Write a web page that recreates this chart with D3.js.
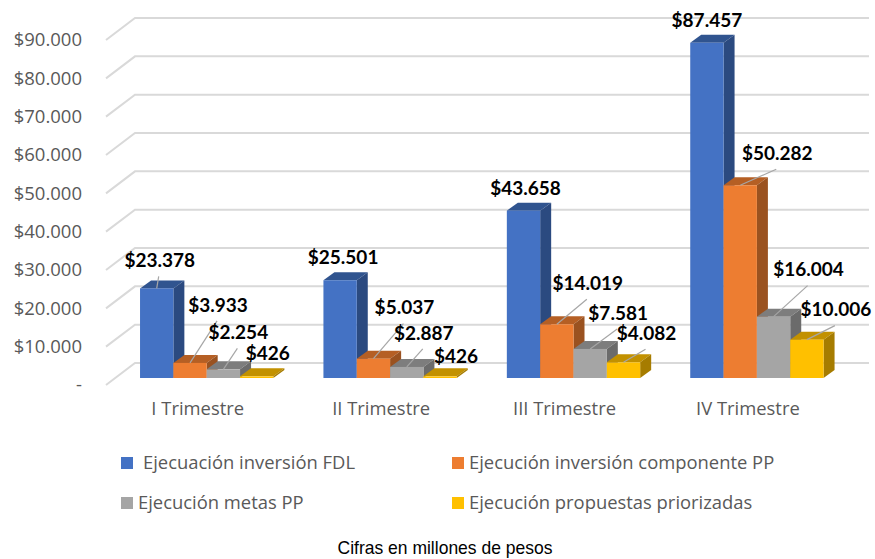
<!DOCTYPE html>
<html>
<head>
<meta charset="utf-8">
<script src="https://cdn.jsdelivr.net/npm/d3@7"></script>
<style>
  body { margin: 0; background: #fff; }
  svg { display: block; }
  text { font-family: Lato, sans-serif; }
</style>
</head>
<body>
<svg width="875" height="559"></svg>
<script>
const categories = ['I Trimestre', 'II Trimestre', 'III Trimestre', 'IV Trimestre'];
const seriesNames = ['Ejecuación inversión FDL', 'Ejecución inversión componente PP', 'Ejecución metas PP', 'Ejecución propuestas priorizadas'];
const fdl = [23378, 25501, 43658, 87457];
const componente = [3933, 5037, 14019, 50282];
const metas = [2254, 2887, 7581, 16004];
const propuestas = [426, 426, 4082, 10006];
const yTicks = [0, 10000, 20000, 30000, 40000, 50000, 60000, 70000, 80000, 90000];

// colours per series: front, side, top
const faces = [
  ['#4472c4', '#2b4a80', '#30548f'],
  ['#ed7d31', '#9a5220', '#b55f24'],
  ['#a5a5a5', '#6b6b6b', '#7d7d7d'],
  ['#ffc000', '#a67c00', '#c29100']
];
// hand placed data labels, offset from the bar top [dx, dy, has leader]
const labelOffsets = [
  [[3, -28, 1], [3, -23, 0], [2, -22, 0], [0, -22, 0]],
  [[28, -58, 1], [31, -51, 1], [31, -41, 1], [37, -32, 1]],
  [[15, -37, 1], [17, -34, 1], [28, -36, 1], [35, -47, 1]],
  [[11, -23, 0], [16, -20, 0], [23, -29, 1], [29, -30, 1]]
];

const svg = d3.select('svg');
const values = [fdl, componente, metas, propuestas];
const depth = {x: 11, y: 8};
const wall = {x: 135, y: -15, left: 106, right: 869};

const y = d3.scaleLinear().domain([0, 90000]).range([378, 33]);
const x0 = d3.scaleBand().domain(categories).range([115, 848.6]).paddingInner(0.273).paddingOuter(0.1365);
const x1 = d3.scaleBand().domain(d3.range(4)).range([0, x0.bandwidth()]);

const money = d3.formatLocale({decimal: ',', thousands: '.', grouping: [3], currency: ['$', '']}).format('$,.0f');

// back wall and side wall gridlines
const grid = svg.append('g').attr('stroke', '#d9d9d9').attr('stroke-width', 2).attr('fill', 'none');
yTicks.forEach(t => {
  grid.append('path').attr('d', d3.line()([
    [wall.left, y(t) + 7],
    [wall.x, y(t) + wall.y],
    [wall.right, y(t) + wall.y]
  ]));
});

// y axis
const yAxis = svg.append('g')
  .attr('transform', 'translate(90,7)')
  .call(d3.axisLeft(y).tickValues(yTicks).tickSize(0).tickPadding(8).tickFormat(d => d === 0 ? '-' : money(d)));
yAxis.select('.domain').remove();
yAxis.selectAll('text').attr('fill', '#595959').style('font-size', '18.5px').style('font-family', '"Open Sans"');

// x axis
const xAxis = svg.append('g')
  .attr('transform', 'translate(-9,398)')
  .call(d3.axisBottom(x0).tickSize(0).tickPadding(4));
xAxis.select('.domain').remove();
xAxis.selectAll('text').attr('fill', '#595959').style('font-size', '18.4px').style('font-family', '"Open Sans"');

// bars, left to right so each one covers the side of the previous
categories.forEach((c, ci) => {
  values.forEach((s, si) => {
    const xl = x0(c) + x1(si), w = x1.bandwidth(), top = y(s[ci]), base = y(0);
    const g = svg.append('g').attr('class', 'bar');
    g.append('path').attr('fill', faces[si][2]).attr('d', d3.line()([
      [xl, top], [xl + depth.x, top - depth.y], [xl + w + depth.x, top - depth.y], [xl + w, top]
    ]));
    g.append('path').attr('fill', faces[si][1]).attr('d', d3.line()([
      [xl + w, top], [xl + w + depth.x, top - depth.y], [xl + w + depth.x, base - depth.y], [xl + w, base]
    ]));
    g.append('rect').attr('x', xl).attr('y', top).attr('width', w).attr('height', base - top).attr('fill', faces[si][0]);
  });
});

// data labels and leader lines
categories.forEach((c, ci) => {
  values.forEach((s, si) => {
    const ax = x0(c) + x1(si) + x1.bandwidth() / 2, ay = y(s[ci]);
    const [dx, dy, leader] = labelOffsets[si][ci];
    if (leader) {
      svg.append('line').attr('x1', ax + dx - 1).attr('y1', ay + dy + 16).attr('x2', ax).attr('y2', ay)
        .attr('stroke', '#a6a6a6').attr('stroke-width', 1.2);
    }
    svg.append('text').attr('x', ax + dx).attr('y', ay + dy).attr('dy', '0.35em')
      .attr('text-anchor', 'middle').attr('fill', '#000').attr('font-weight', 700).attr('font-size', 19)
      .text(money(s[ci]));
  });
});

// legend
const legendPos = [[121, 463, 143], [452, 463, 469], [121, 503, 138], [452, 503, 469]];
seriesNames.forEach((n, i) => {
  const [lx, ly, tx] = legendPos[i];
  svg.append('rect').attr('x', lx).attr('y', ly - 6).attr('width', 12).attr('height', 12).attr('fill', faces[i][0]);
  svg.append('text').attr('x', tx).attr('y', ly).attr('dy', '0.35em').attr('fill', '#595959')
    .style('font-family', '"Open Sans"').attr('font-size', 18.4).text(n);
});

// note
svg.append('text').attr('x', 445).attr('y', 547).attr('dy', '0.35em').attr('text-anchor', 'middle')
  .attr('fill', '#000').style('font-family', '"Liberation Sans"').attr('font-size', 19)
  .attr('textLength', 215).attr('lengthAdjust', 'spacingAndGlyphs')
  .text('Cifras en millones de pesos');
</script>
</body>
</html>
